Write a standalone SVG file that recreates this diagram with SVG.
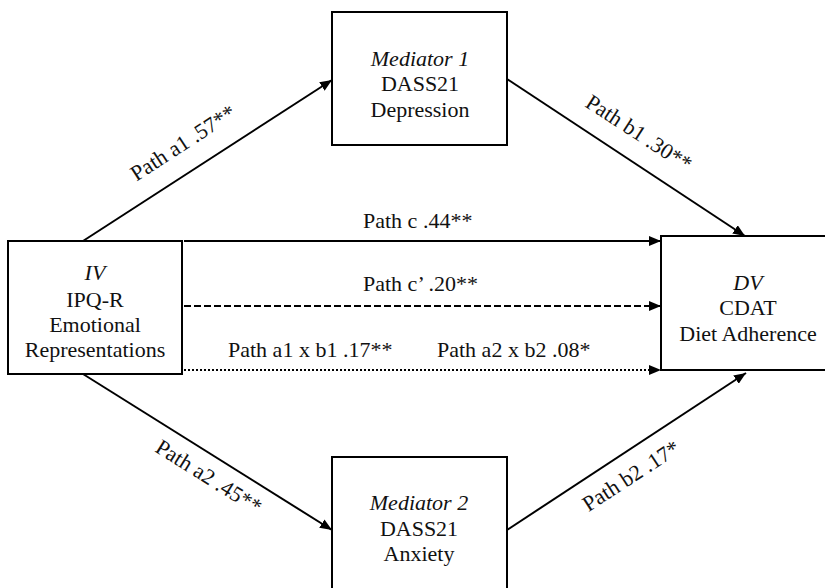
<svg xmlns="http://www.w3.org/2000/svg" width="825" height="588" viewBox="0 0 825 588">
<defs>
<marker id="arr" viewBox="0 0 12 10" refX="12" refY="5" markerWidth="12" markerHeight="10" markerUnits="userSpaceOnUse" orient="auto">
<path d="M0,0 L12,5 L0,10 z" fill="#000"/>
</marker>
</defs>
<style>
.box{fill:#fff;stroke:#000;stroke-width:2}
text{font-family:"Liberation Serif","Times New Roman",serif;font-size:22px;fill:#111}
.c{text-anchor:middle}
.i{font-style:italic}
.ln{stroke:#000;stroke-width:2;fill:none;marker-end:url(#arr)}
.dash{stroke-dasharray:7,3}
.dot{stroke-dasharray:2,2}
</style>
<rect width="825" height="588" fill="#fff"/>
<g id="connectors">
<line class="ln" x1="83" y1="241" x2="332" y2="80"/>
<line class="ln" x1="83" y1="374" x2="332" y2="530"/>
<line class="ln" x1="507" y1="79" x2="745" y2="236"/>
<line class="ln" x1="507" y1="530" x2="746" y2="373"/>
<line class="ln" x1="184" y1="241" x2="661" y2="241"/>
<line class="ln dash" x1="184" y1="306" x2="661" y2="306"/>
<line class="ln dot" x1="184" y1="370" x2="661" y2="370"/>
<text x="187" y="149" class="c" transform="rotate(-33 187 149)">Path a1 .57**</text>
<text x="635" y="139" class="c" transform="rotate(33 635 139)">Path b1 .30**</text>
<text x="205" y="483" class="c" transform="rotate(32 205 483)">Path a2 .45**</text>
<text x="635" y="482" class="c" transform="rotate(-33 635 482)">Path b2 .17*</text>
<text x="363" y="228">Path c .44**</text>
<text x="363" y="291">Path c’ .20**</text>
<text x="228" y="357">Path a1 x b1 .17**</text>
<text x="437" y="357">Path a2 x b2 .08*</text>
</g>
<g id="iv">
<rect class="box" x="8" y="241" width="174" height="133"/>
<text x="95" y="280" class="c i">IV</text>
<text x="95" y="307" class="c">IPQ-R</text>
<text x="95" y="332" class="c">Emotional</text>
<text x="95" y="357" class="c">Representations</text>
</g>
<g id="mediator1">
<rect class="box" x="332" y="12" width="175" height="133"/>
<text x="420" y="66" class="c i">Mediator 1</text>
<text x="420" y="91" class="c">DASS21</text>
<text x="420" y="117" class="c">Depression</text>
</g>
<g id="mediator2">
<rect class="box" x="332" y="457" width="175" height="150"/>
<text x="419" y="510" class="c i">Mediator 2</text>
<text x="419" y="536" class="c">DASS21</text>
<text x="419" y="561" class="c">Anxiety</text>
</g>
<g id="dv">
<rect class="box" x="661" y="236" width="174" height="134"/>
<text x="748" y="290" class="c i">DV</text>
<text x="748" y="315" class="c">CDAT</text>
<text x="748" y="341" class="c">Diet Adherence</text>
</g>
</svg>
